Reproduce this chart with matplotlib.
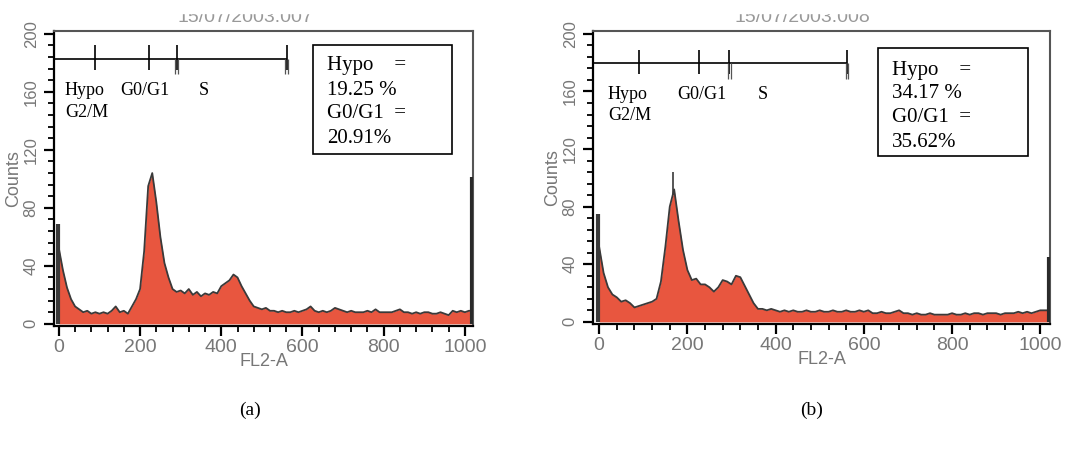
import numpy as np
import matplotlib
matplotlib.use("Agg")
from matplotlib import pyplot as plt
from matplotlib.patches import Rectangle
from matplotlib.ticker import MultipleLocator

# canal de cada muestra (cada 10 canales)
channels = np.arange(0, 1020, 10)

counts_a = [52, 37, 25, 17, 12, 10, 8, 9, 7, 8,
            7, 8, 7, 9, 12, 8, 9, 7, 12, 17,
            24, 50, 95, 104, 84, 60, 42, 32, 24, 22,
            23, 21, 24, 20, 22, 19, 21, 20, 22, 21,
            26, 28, 30, 34, 32, 26, 21, 16, 12, 11,
            10, 11, 9, 9, 8, 9, 8, 8, 9, 8,
            9, 10, 12, 9, 8, 9, 8, 9, 11, 10,
            9, 8, 9, 8, 8, 8, 9, 8, 10, 8,
            8, 8, 8, 9, 10, 8, 8, 7, 8, 7,
            8, 8, 7, 7, 8, 7, 6, 9, 8, 9,
            8, 9]

counts_b = [52, 34, 24, 19, 17, 14, 15, 13, 10, 11,
            12, 13, 14, 16, 28, 52, 80, 92, 70, 50,
            36, 29, 30, 26, 26, 24, 21, 24, 29, 28,
            26, 32, 31, 25, 19, 13, 9, 9, 8, 9,
            8, 7, 8, 7, 8, 7, 7, 8, 7, 7,
            8, 7, 7, 8, 7, 7, 8, 7, 7, 8,
            7, 8, 6, 6, 7, 6, 6, 7, 8, 6,
            6, 5, 6, 5, 5, 6, 5, 5, 5, 5,
            6, 5, 5, 6, 5, 6, 6, 5, 6, 6,
            6, 5, 6, 6, 6, 7, 6, 7, 6, 7,
            8, 8]

# canales saturados en los extremos
first_a, last_a = 69, 101
first_b, last_b = 75, 45
# pico fino en (b)
spike_b = (167, 104)

# marcadores de las regiones
gates_a = [89, 222, 290, 561]
gates_b = [91, 227, 295, 562]
gate_y_a = 183
gate_y_b = 180

box_a = ["Hypo    =", "19.25 %", "G0/G1  =", "20.91%"]
box_b = ["Hypo    =", "34.17 %", "G0/G1  =", "35.62%"]

titles = ["15/07/2003.007", "15/07/2003.008"]

RED = "#e8563f"
GREY = "#777777"
SERIF = "Liberation Serif"
SANS = ["Liberation Sans Narrow", "Liberation Sans"]

plt.rcParams["font.family"] = SANS

fig = plt.figure(figsize=(10.75, 4.49), dpi=100)


def draw_panel(ax, counts, first, last, gates, gate_y, box_lines, xlim, lab_pos, box_pos):
    xs = np.append(channels, xlim[1] - 3)
    ys = np.append(counts, counts[-1])
    ax.fill_between(xs, 0, ys, color=RED, lw=0, zorder=2)
    ax.plot(xs, ys, color="#3a3a3a", lw=1.3, zorder=3)
    # canal 0 y canal 1023 (acumulados)
    ax.vlines(-3, 0, first, color="#3a3a3a", lw=3, zorder=3)
    ax.vlines(xlim[1] - 2, 0, last, color="#2a2a2a", lw=3, zorder=3)

    ax.set_xlim(*xlim)
    ax.set_ylim(-1.5, 202)
    ax.set_xticks(range(0, 1001, 200))
    ax.set_yticks(range(0, 201, 40))
    ax.xaxis.set_minor_locator(MultipleLocator(40))
    ax.yaxis.set_minor_locator(MultipleLocator(8))
    ax.tick_params(which="major", direction="out", length=7, width=1.6, color="black",
                   labelcolor=GREY)
    ax.tick_params(which="minor", direction="out", length=4, width=1.3, color="black")
    ax.tick_params(axis="x", labelsize=14, pad=2)
    ax.tick_params(axis="y", labelsize=12, pad=4, labelrotation=90)
    for t in ax.get_yticklabels():
        t.set_va("center")
    for s in ["left", "bottom"]:
        ax.spines[s].set_linewidth(1.6)
    for s in ["top", "right"]:
        ax.spines[s].set_linewidth(1.5)
        ax.spines[s].set_color("#555555")
    ax.set_xlabel("FL2-A", color=GREY, fontsize=13, labelpad=-2)
    ax.set_ylabel("Counts", color=GREY, fontsize=13, labelpad=1)

    # regiones
    ax.hlines(gate_y, xlim[0], gates[-1], color="black", lw=1.2, zorder=4)
    ax.vlines(gates, gate_y - 8, gate_y + 9, color="black", lw=1.2, zorder=4)
    for g in gates[2:]:
        ax.vlines([g + 3, g - 3], gate_y - 11, gate_y, color="#555555", lw=0.9, zorder=4)

    lx, ly = lab_pos
    ax.text(lx[0], ly[0], "Hypo", family=SERIF, fontsize=13)
    ax.text(lx[0], ly[1], "G2/M", family=SERIF, fontsize=13)
    ax.text(lx[1], ly[0], "G0/G1", family=SERIF, fontsize=13)
    ax.text(lx[2], ly[0], "S", family=SERIF, fontsize=13)

    bx0, bx1, by0, by1, tx, tys = box_pos
    ax.add_patch(Rectangle((bx0, by0), bx1 - bx0, by1 - by0, fill=False,
                           ec="black", lw=1.2, zorder=5))
    for line, ty in zip(box_lines, tys):
        ax.text(tx, ty, line, family=SERIF, fontsize=15, va="baseline", zorder=6)


ax1 = fig.add_axes([54 / 1075, 1 - 326 / 449, 419 / 1075, 295 / 449])
draw_panel(ax1, counts_a, first_a, last_a, gates_a, gate_y_a, box_a,
           (-12, 1020), ([15, 150, 345], [158, 143]),
           (626, 968, 117, 192, 660, [175, 158, 142, 125]))

ax2 = fig.add_axes([593 / 1075, 1 - 324 / 449, 457 / 1075, 293 / 449])
draw_panel(ax2, counts_b, first_b, last_b, gates_b, gate_y_b, box_b,
           (-14, 1022), ([20, 177, 360], [155, 140]),
           (633, 973, 115, 190, 664, [171.5, 155.5, 139, 121.5]))
spike_base = np.interp(spike_b[0], channels, counts_b)
ax2.vlines(spike_b[0], spike_base, spike_b[1], color="#3a3a3a", lw=1.2, zorder=3)

# titulos cortados por el borde superior del escaneo
fig.text(245 / 1075, 1 - 22 / 449, titles[0], ha="center", va="baseline",
         fontsize=14, color="#999999")
fig.text(802 / 1075, 1 - 22 / 449, titles[1], ha="center", va="baseline",
         fontsize=14, color="#999999")
fig.add_artist(Rectangle((0, 1 - 13 / 449), 1, 13 / 449, transform=fig.transFigure,
                         color="white", zorder=20))

fig.text(250 / 1075, 1 - 410 / 449, "(a)", ha="center", va="center",
         family=SERIF, fontsize=14)
fig.text(812 / 1075, 1 - 410 / 449, "(b)", ha="center", va="center",
         family=SERIF, fontsize=14)

fig.savefig("out.png", dpi=100)
